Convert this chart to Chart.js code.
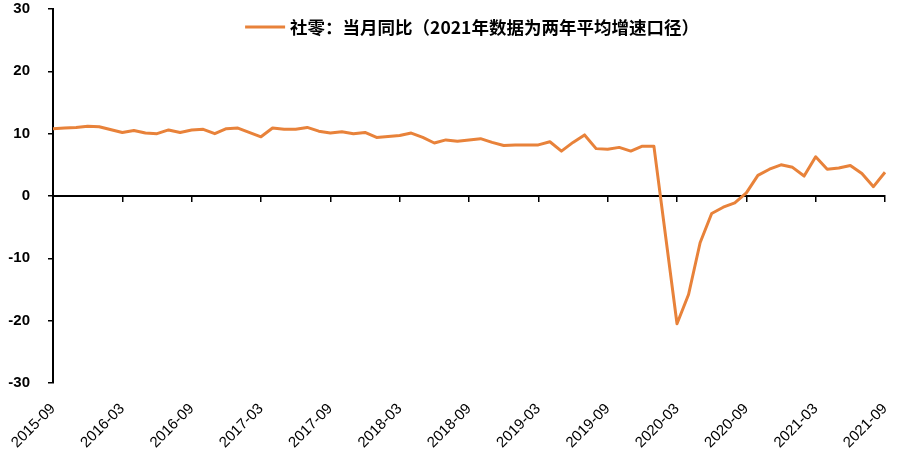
<!DOCTYPE html>
<html>
<head>
<meta charset="utf-8">
<script src="https://cdn.jsdelivr.net/npm/chart.js@4.4.0/dist/chart.umd.min.js"></script>
<style>
  html, body { margin: 0; padding: 0; background: #fff; }
</style>
</head>
<body>
<canvas id="grafico_social" width="907" height="454"></canvas>
<script>
/* ===== DADOS ===== */
const meses = [
  '2015-09', '2015-10', '2015-11', '2015-12',
  '2016-01', '2016-02', '2016-03', '2016-04', '2016-05', '2016-06', '2016-07', '2016-08', '2016-09', '2016-10', '2016-11', '2016-12',
  '2017-01', '2017-02', '2017-03', '2017-04', '2017-05', '2017-06', '2017-07', '2017-08', '2017-09', '2017-10', '2017-11', '2017-12',
  '2018-01', '2018-02', '2018-03', '2018-04', '2018-05', '2018-06', '2018-07', '2018-08', '2018-09', '2018-10', '2018-11', '2018-12',
  '2019-01', '2019-02', '2019-03', '2019-04', '2019-05', '2019-06', '2019-07', '2019-08', '2019-09', '2019-10', '2019-11', '2019-12',
  '2020-01', '2020-02', '2020-03', '2020-04', '2020-05', '2020-06', '2020-07', '2020-08', '2020-09', '2020-10', '2020-11', '2020-12',
  '2021-01', '2021-02', '2021-03', '2021-04', '2021-05', '2021-06', '2021-07', '2021-08', '2021-09'
];

// values as they sit on the picture (gaps are joined by the line)
const valores_social = [
  10.8, 10.9, 11.0, 11.2,
  11.1, null, 10.2, 10.5, 10.1, 10.0, 10.6, 10.2, 10.6, 10.7, 10.0, 10.8,
  10.9, null, 9.5, 10.9, 10.7, 10.7, 11.0, 10.4, 10.1, 10.3, 10.0, 10.2,
  9.4, null, 9.7, 10.1, 9.4, 8.5, 9.0, 8.8, 9.0, 9.2, 8.6, 8.1,
  8.2, null, 8.2, 8.7, 7.2, 8.6, 9.8, 7.6, 7.5, 7.8, 7.2, 8.0,
  8.0, null, -20.5, -15.8, -7.5, -2.8, -1.8, -1.1, 0.5, 3.3, 4.3, 5.0,
  4.6, 3.2, 6.3, 4.3, 4.5, 4.9, 3.6, 1.5, 3.8
];

const rotulos_eixo = [
  '2015-09', '2016-03', '2016-09', '2017-03', '2017-09', '2018-03', '2018-09',
  '2019-03', '2019-09', '2020-03', '2020-09', '2021-03', '2021-09'
];

const nome_serie = '社零：当月同比（2021年数据为两年平均增速口径）';
const cor_serie = '#E8823A';

/* ===== LEGENDA (dentro da area) ===== */
const legenda_dentro = {
  id: 'legenda_dentro',
  afterDraw(chart) {
    const ctx = chart.ctx;
    const area = chart.chartArea;
    const ds = chart.data.datasets[0];
    ctx.save();
    ctx.font = 'bold 17.5px "Noto Sans CJK SC"';
    let largura_texto = ctx.measureText(ds.label).width;
    let total = 40 + 5 + largura_texto;
    let x = (area.left + area.right) / 2 - total / 2 + 3;
    let y = area.top + 18;
    ctx.strokeStyle = ds.borderColor;
    ctx.lineWidth = 3;
    ctx.beginPath();
    ctx.moveTo(x, y);
    ctx.lineTo(x + 40, y);
    ctx.stroke();
    ctx.fillStyle = '#000';
    ctx.textBaseline = 'middle';
    ctx.fillText(ds.label, x + 45, y);
    ctx.restore();
  }
};

/* ===== GRAFICO ===== */
const grafico_ctx = document.getElementById('grafico_social');

const dataset_social = {
  label: nome_serie,
  data: valores_social,
  borderColor: cor_serie,
  backgroundColor: cor_serie,
  borderWidth: 3,
  pointRadius: 0,
  tension: 0,
  spanGaps: true,
  borderJoinStyle: 'round',
  xAxisID: 'x'
};

const chart_config = {
  type: 'line',
  data: { labels: meses, datasets: [dataset_social] },
  options: {
    responsive: false,
    animation: false,
    layout: { padding: { top: 9, right: 22, bottom: 0, left: 0 } },
    plugins: {
      legend: { display: false },
      tooltip: { enabled: false }
    },
    scales: {
      x: {
        type: 'category',
        position: { y: 0 },
        offset: false,
        border: { display: true, color: '#000', width: 2 },
        grid: {
          drawOnChartArea: false,
          tickLength: 5,
          lineWidth: 1.5,
          color: (c) => (c.index % 6 === 0 ? '#000' : 'rgba(0,0,0,0)')
        },
        ticks: { display: false, autoSkip: false }
      },
      x2: {
        type: 'category',
        position: 'bottom',
        offset: false,
        border: { display: false },
        grid: { display: false },
        ticks: {
          autoSkip: false,
          minRotation: 45,
          maxRotation: 45,
          padding: 9,
          color: '#000',
          font: { family: '"Liberation Sans", Arial', size: 15 },
          callback: function (v) {
            let m = this.getLabelForValue(v);
            return rotulos_eixo.includes(m) ? m : null;
          }
        },
        afterFit: (s) => { s.height = 71; }
      },
      y: {
        min: -30,
        max: 30,
        border: { color: '#000', width: 2 },
        grid: { drawOnChartArea: false, tickLength: 5, lineWidth: 1.5, color: '#000' },
        ticks: {
          stepSize: 10,
          padding: 18,
          color: '#000',
          font: { family: '"Liberation Sans", Arial', size: 15, weight: 'bold' }
        },
        // fixed width, and no extra room asked above/below the plot
        afterFit: (s) => { s.width = 53; s.paddingTop = 0; s.paddingBottom = 0; }
      }
    }
  },
  plugins: [legenda_dentro]
};

const chart1 = new Chart(grafico_ctx, chart_config);
</script>
</body>
</html>
